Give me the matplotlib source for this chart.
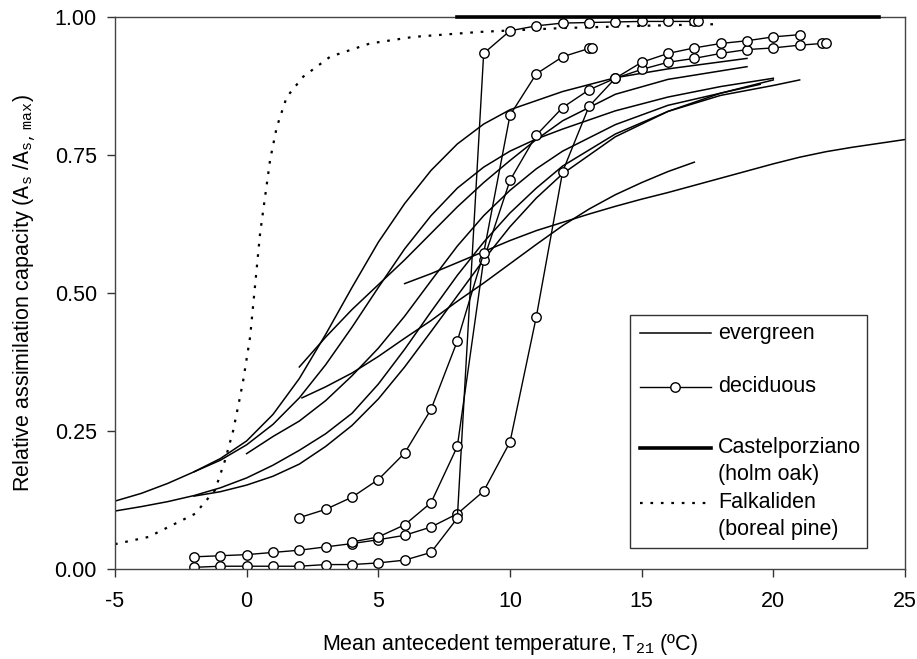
import matplotlib
matplotlib.use("Agg")
import matplotlib.pyplot as plt
from matplotlib.patches import Rectangle

plt.rcParams['font.family'] = ['Liberation Sans', 'DejaVu Sans']
plt.rcParams['mathtext.fontset'] = 'custom'
plt.rcParams['mathtext.tt'] = 'Liberation Mono'
plt.rcParams['axes.unicode_minus'] = False

# evergreen sites (fitted curves)
ev_l1_x = [-5, -4, -3, -2, -1, 0, 1, 2, 3, 4, 5, 6, 7, 8, 9, 10, 12, 14, 16, 19]
ev_l1_y = [0.123, 0.137, 0.155, 0.176, 0.200, 0.232, 0.280, 0.345, 0.425, 0.510, 0.592, 0.662, 0.722, 0.770, 0.806, 0.832, 0.865, 0.890, 0.906, 0.925]
ev_l2_x = [-5, -4, -3, -2, -1, 0, 1, 2, 3, 4, 5, 6, 7, 8, 9, 10, 11, 12, 14, 16, 18, 20, 21]
ev_l2_y = [0.105, 0.113, 0.122, 0.133, 0.147, 0.165, 0.188, 0.215, 0.245, 0.282, 0.335, 0.398, 0.466, 0.532, 0.592, 0.645, 0.690, 0.730, 0.788, 0.829, 0.858, 0.876, 0.886]
ev_s1_x = [-2, -1, 0, 1, 2, 3, 4, 5, 6, 7, 8, 9, 10, 11, 12, 14, 16, 18, 20]
ev_s1_y = [0.176, 0.197, 0.225, 0.262, 0.310, 0.370, 0.438, 0.510, 0.580, 0.640, 0.690, 0.728, 0.757, 0.779, 0.797, 0.830, 0.855, 0.874, 0.889]
ev_s2_x = [-2, -1, 0, 1, 2, 3, 4, 5, 6, 7, 8, 9, 10, 11, 12, 14, 16, 18, 20]
ev_s2_y = [0.132, 0.140, 0.152, 0.168, 0.190, 0.222, 0.260, 0.308, 0.366, 0.430, 0.495, 0.560, 0.620, 0.672, 0.716, 0.783, 0.829, 0.862, 0.886]
ev_s3_x = [0, 1, 2, 3, 4, 5, 6, 7, 8, 9, 10, 11, 12, 14, 16, 18, 19.5]
ev_s3_y = [0.209, 0.240, 0.268, 0.305, 0.350, 0.400, 0.458, 0.522, 0.585, 0.640, 0.686, 0.725, 0.757, 0.805, 0.840, 0.862, 0.878]
ev_s4_x = [2, 3, 4, 5, 6, 7, 8, 9, 10, 11, 12, 14, 16, 19]
ev_s4_y = [0.366, 0.420, 0.470, 0.515, 0.560, 0.608, 0.656, 0.700, 0.740, 0.778, 0.812, 0.860, 0.887, 0.910]
ev_s5_x = [2.1, 3, 4, 5, 6, 7, 8, 9, 10, 11, 12, 13, 14, 15, 16, 17]
ev_s5_y = [0.310, 0.330, 0.355, 0.385, 0.418, 0.450, 0.485, 0.518, 0.553, 0.588, 0.622, 0.652, 0.678, 0.700, 0.720, 0.737]
ev_s6_x = [6, 7, 8, 9, 10, 11, 12, 13, 14, 15, 16, 17, 18, 19, 20, 21, 22, 23, 24, 25]
ev_s6_y = [0.517, 0.535, 0.555, 0.575, 0.595, 0.613, 0.628, 0.643, 0.657, 0.670, 0.682, 0.695, 0.708, 0.721, 0.734, 0.746, 0.756, 0.764, 0.771, 0.778]

# deciduous sites (measured points)
dec_a_x = [-2, -1, 0, 1, 2, 3, 4, 5, 6, 7, 8, 9, 10, 11, 12, 13, 14, 15, 16, 17, 18, 19, 20, 21, 21.85, 22]
dec_a_y = [0.022, 0.024, 0.026, 0.030, 0.034, 0.040, 0.046, 0.053, 0.061, 0.076, 0.100, 0.141, 0.230, 0.457, 0.720, 0.838, 0.889, 0.905, 0.918, 0.925, 0.934, 0.941, 0.944, 0.949, 0.952, 0.952]
dec_b_x = [-2, -1, 0, 1, 2, 3, 4, 5, 6, 7, 8, 9, 10, 11, 12, 13, 14, 15, 16, 17, 17.15]
dec_b_y = [0.003, 0.005, 0.005, 0.005, 0.005, 0.008, 0.008, 0.011, 0.016, 0.030, 0.092, 0.934, 0.975, 0.984, 0.989, 0.990, 0.991, 0.992, 0.992, 0.992, 0.992]
dec_c_x = [4, 5, 6, 7, 8, 9, 10, 11, 12, 13, 14, 15, 16, 17, 18, 19, 20, 21]
dec_c_y = [0.049, 0.058, 0.080, 0.120, 0.222, 0.560, 0.704, 0.786, 0.836, 0.868, 0.889, 0.918, 0.934, 0.944, 0.952, 0.957, 0.964, 0.968]
dec_d_x = [2, 3, 4, 5, 6, 7, 8, 9, 10, 11, 12, 13, 13.1]
dec_d_y = [0.093, 0.108, 0.130, 0.162, 0.210, 0.289, 0.413, 0.572, 0.822, 0.897, 0.928, 0.943, 0.944]

# Castelporziano (holm oak) and Falkaliden (boreal pine)
cast_x = [8, 24]
cast_y = [1.0, 1.0]
falk_x = [-5, -3.73, -1.96, -1.2, -0.82, -0.51, -0.25, -0.13, 0.13, 0.51, 0.89, 1.14, 1.52, 2.15, 3.17, 4.68, 6.34, 8.86, 12, 15, 17.8]
falk_y = [0.045, 0.058, 0.100, 0.143, 0.197, 0.251, 0.312, 0.342, 0.420, 0.608, 0.741, 0.800, 0.855, 0.892, 0.928, 0.952, 0.964, 0.973, 0.980, 0.984, 0.987]

legend_labels = ['evergreen', 'deciduous', 'Castelporziano', '(holm oak)', 'Falkaliden', '(boreal pine)']

fs = 15.5

fig = plt.figure(figsize=(9.17, 6.59), dpi=100)
ax = fig.add_axes([0.1254, 0.1366, 0.8615, 0.8376])

ev_style = dict(color='black', lw=1.1)
for xs, ys in [(ev_l1_x, ev_l1_y), (ev_l2_x, ev_l2_y), (ev_s1_x, ev_s1_y), (ev_s2_x, ev_s2_y),
               (ev_s3_x, ev_s3_y), (ev_s4_x, ev_s4_y), (ev_s5_x, ev_s5_y), (ev_s6_x, ev_s6_y)]:
    ax.plot(xs, ys, **ev_style)

falk_style = dict(color='black', lw=1.6, linestyle=(0, (1.2, 3.5)))
cast_style = dict(color='black', lw=2.6)
ax.plot(falk_x, falk_y, **falk_style)
ax.plot(cast_x, cast_y, clip_on=False, zorder=4, **cast_style)

dec_style = dict(color='black', lw=1.0, marker='o', markersize=6.8,
                 markerfacecolor='white', markeredgecolor='black', markeredgewidth=1.0)
for xs, ys in [(dec_a_x, dec_a_y), (dec_b_x, dec_b_y), (dec_c_x, dec_c_y), (dec_d_x, dec_d_y)]:
    ax.plot(xs, ys, **dec_style)

ax.set_xlim(-5, 25)
ax.set_ylim(0, 1)
ax.set_xticks([-5, 0, 5, 10, 15, 20, 25])
ax.set_yticks([0, 0.25, 0.5, 0.75, 1.0])
ax.set_yticklabels(['0.00', '0.25', '0.50', '0.75', '1.00'])
ax.tick_params(direction='out', length=6, width=1, colors='#333333', labelsize=fs, labelcolor='black')
ax.tick_params(axis='x', pad=10)
ax.tick_params(axis='y', pad=7)
for sp in ax.spines.values():
    sp.set_color('#444444')
    sp.set_linewidth(1.0)

ax.set_xlabel(r'Mean antecedent temperature, $\mathtt{T}_{\mathtt{21}}$ (ºC)', fontsize=fs, labelpad=14)
ax.set_ylabel(r'Relative assimilation capacity ($\mathtt{A}_{\mathtt{s}}$ /$\mathtt{A}_{\mathtt{s,max}}$)',
              fontsize=fs, labelpad=12)

# legend box drawn by hand: the original has tight two-line entries
tr = ax.transAxes
ax.add_patch(Rectangle((0.652, 0.038), 0.300, 0.422, transform=tr, facecolor='white',
                       edgecolor='#333333', lw=1.0, zorder=5))
h0, h1, tx = 0.665, 0.754, 0.763
rows = [0.4275, 0.3297, 0.2192, 0.1703, 0.1196, 0.0707]
ax.plot([h0, h1], [rows[0]] * 2, transform=tr, zorder=6, **ev_style)
ax.plot([h0, h1], [rows[1]] * 2, transform=tr, zorder=6, color='black', lw=1.0)
ax.plot([(h0 + h1) / 2], [rows[1]], transform=tr, zorder=7, **dec_style)
ax.plot([h0, h1], [rows[2]] * 2, transform=tr, zorder=6, **cast_style)
ax.plot([h0, h1], [rows[4]] * 2, transform=tr, zorder=6, **falk_style)
for lab, yy in zip(legend_labels, rows):
    ax.text(tx, yy, lab, transform=tr, fontsize=fs, va='center', ha='left', zorder=7)

fig.savefig('out.png', dpi=100)
